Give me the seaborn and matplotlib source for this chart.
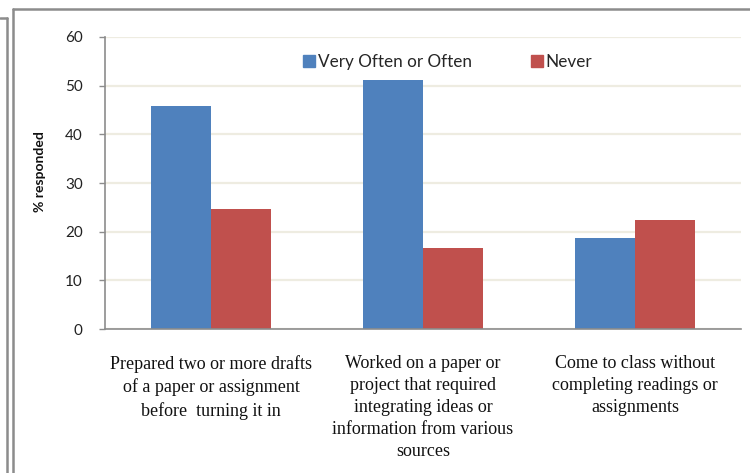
import matplotlib
matplotlib.use("Agg")
import matplotlib.pyplot as plt
import seaborn as sns
import pandas as pd
from matplotlib.lines import Line2D

categories = [
    "Prepared two or more drafts\nof a paper or assignment\nbefore  turning it in",
    "Worked on a paper or\nproject that required\nintegrating ideas or\ninformation from various\nsources",
    "Come to class without\ncompleting readings or\nassignments",
]
series_names = ["Very Often or Often", "Never"]
often_values = [45.8, 51.2, 18.6]
never_values = [24.7, 16.7, 22.5]
yticks = [0, 10, 20, 30, 40, 50, 60]
colors = ["#4F81BD", "#C0504D"]

df = pd.DataFrame({
    "category": categories * 2,
    "series": [series_names[0]] * 3 + [series_names[1]] * 3,
    "value": often_values + never_values,
})

sns.set_style("white")
plt.rcParams["font.family"] = ["Lato", "DejaVu Sans"]

fig = plt.figure(figsize=(7.5, 4.73), dpi=100)
ax = fig.add_axes([0.14, 0.3044, 0.848, 0.6174])

sns.barplot(data=df, x="category", y="value", hue="series", palette=colors,
            width=0.57, gap=0, saturation=1, linewidth=0, ax=ax, errorbar=None)

ax.set_ylim(0, 60)
ax.set_yticks(yticks)
ax.set_yticklabels([str(t) for t in yticks], fontsize=11, color="#222222")
ax.set_xlim(-0.5, 2.5)
ax.yaxis.grid(True, color="#EEECE1", linewidth=1.6)
ax.xaxis.grid(False)
ax.set_axisbelow(True)

for s in ["top", "right"]:
    ax.spines[s].set_visible(False)
for s in ["left", "bottom"]:
    ax.spines[s].set_color("#8C8C8C")
    ax.spines[s].set_linewidth(1.2)

ax.tick_params(axis="y", length=4, width=1, color="#8C8C8C", pad=12, left=True)
ax.tick_params(axis="x", length=0, pad=19)
for lbl in ax.get_xticklabels():
    lbl.set_fontfamily(["Liberation Serif", "DejaVu Serif"])
    lbl.set_fontsize(13)
    lbl.set_color("#111111")
    lbl.set_linespacing(1.38)

ax.set_xlabel("")
ax.set_ylabel("% responded", fontsize=10, fontweight="bold", color="#111111")
ax.yaxis.set_label_coords(-0.092, 0.54)

handles = [Line2D([0], [0], marker="s", linestyle="none", markersize=8,
                  markerfacecolor=c, markeredgecolor=c) for c in colors]
ax.legend(handles, series_names, loc="center", bbox_to_anchor=(0.538, 0.915),
          ncol=2, frameon=False, fontsize=12.3, handletextpad=0.1,
          columnspacing=3.4, handlelength=0.8)

# Decorative frames
gray = "#8C8C8C"
fig.add_artist(Line2D([13 / 750, 13 / 750], [0, 1 - 9 / 473], color=gray, lw=1.8, transform=fig.transFigure))
fig.add_artist(Line2D([13 / 750, 1], [1 - 9 / 473, 1 - 9 / 473], color=gray, lw=1.8, transform=fig.transFigure))
fig.add_artist(Line2D([7 / 750, 7 / 750], [0, 1 - 18 / 473], color=gray, lw=1.8, transform=fig.transFigure))
fig.add_artist(Line2D([0, 7 / 750], [1 - 18 / 473, 1 - 18 / 473], color=gray, lw=1.8, transform=fig.transFigure))

fig.savefig("out.png", dpi=100)
